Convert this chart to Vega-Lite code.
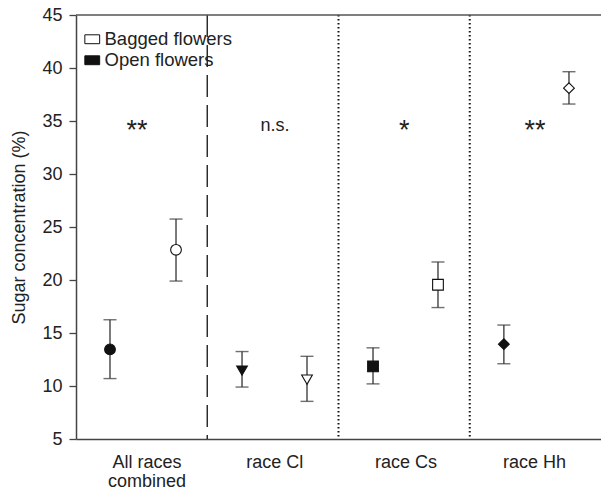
{
  "$schema": "https://vega.github.io/schema/vega-lite/v6.json",
  "autosize": "none",
  "width": 525,
  "height": 424,
  "padding": {"left": 76, "top": 15, "right": 0, "bottom": 53},
  "background": "white",
  "config": {
    "view": {"stroke": null},
    "font": "Liberation Sans",
    "axis": {"domainColor": "#444", "domainWidth": 1.5, "tickColor": "#444", "tickWidth": 1.3, "labelColor": "#222", "titleColor": "#222", "grid": false, "labelFont": "Liberation Sans", "titleFont": "Liberation Sans"}
  },
  "datasets": {
    "pts": [
      {"group": "All races combined", "type": "Open flowers", "x": 0.259, "mean": 13.45, "lo": 10.7, "hi": 16.25},
      {"group": "All races combined", "type": "Bagged flowers", "x": 0.762, "mean": 22.85, "lo": 19.9, "hi": 25.75},
      {"group": "race Cl", "type": "Open flowers", "x": 1.265, "mean": 11.45, "lo": 9.9, "hi": 13.25},
      {"group": "race Cl", "type": "Bagged flowers", "x": 1.76, "mean": 10.6, "lo": 8.55, "hi": 12.8},
      {"group": "race Cs", "type": "Open flowers", "x": 2.263, "mean": 11.85, "lo": 10.2, "hi": 13.6},
      {"group": "race Cs", "type": "Bagged flowers", "x": 2.758, "mean": 19.55, "lo": 17.4, "hi": 21.7},
      {"group": "race Hh", "type": "Open flowers", "x": 3.26, "mean": 13.95, "lo": 12.1, "hi": 15.75},
      {"group": "race Hh", "type": "Bagged flowers", "x": 3.756, "mean": 38.1, "lo": 36.6, "hi": 39.65}
    ],
    "notes": [
      {"x": 0.465, "y": 33.3, "label": "**", "size": 27},
      {"x": 1.516, "y": 34.06, "label": "n.s.", "size": 18},
      {"x": 2.5, "y": 33.3, "label": "*", "size": 27},
      {"x": 3.497, "y": 33.3, "label": "**", "size": 27}
    ],
    "seps": [
      {"x": 1, "kind": "dash"},
      {"x": 2, "kind": "dot"},
      {"x": 3, "kind": "dot"}
    ]
  },
  "encoding": {
    "x": {"type": "quantitative"},
    "y": {"type": "quantitative"}
  },
  "layer": [
    {
      "data": {"name": "seps"},
      "transform": [{"filter": "datum.kind === 'dash'"}],
      "mark": {"type": "rule", "color": "#222", "strokeWidth": 1.4, "strokeDash": [22, 8]},
      "encoding": {"x": {"field": "x", "type": "quantitative"}, "y": null}
    },
    {
      "data": {"name": "seps"},
      "transform": [{"filter": "datum.kind === 'dot'"}],
      "mark": {"type": "rule", "color": "#111", "strokeWidth": 2, "strokeDash": [1.6, 2.4]},
      "encoding": {"x": {"field": "x", "type": "quantitative"}, "y": null}
    },
    {
      "data": {"values": [{"v": 45}]},
      "mark": {"type": "rule", "color": "#555", "strokeWidth": 1.5},
      "encoding": {"y": {"field": "v", "type": "quantitative"}, "x": null}
    },
    {
      "data": {"name": "pts"},
      "mark": {"type": "rule", "color": "#333", "strokeWidth": 1.3},
      "encoding": {
        "x": {"field": "x", "type": "quantitative", "scale": {"domain": [0, 4], "nice": false, "zero": false},
          "axis": {"title": null, "values": [0.537, 1.51, 2.51, 3.49], "ticks": false, "labelFontSize": 18, "labelPadding": 14, "labelLineHeight": 19, "labelFlush": false, "labelOverlap": false,
            "labelExpr": "datum.value < 1 ? ['All races', 'combined'] : datum.value < 2 ? 'race Cl' : datum.value < 3 ? 'race Cs' : 'race Hh'"}},
        "y": {"field": "lo", "type": "quantitative", "scale": {"domain": [5, 45], "nice": false, "zero": false},
          "axis": {"title": "Sugar concentration (%)", "values": [5, 10, 15, 20, 25, 30, 35, 40, 45], "tickSize": 7, "labelPadding": 7, "labelFontSize": 18, "titleFontSize": 18, "titleFontWeight": "normal", "titlePadding": 13}},
        "y2": {"field": "hi"}
      }
    },
    {
      "data": {"name": "pts"},
      "mark": {"type": "tick", "orient": "horizontal", "color": "#333", "size": 13, "thickness": 1.4},
      "encoding": {"x": {"field": "x", "type": "quantitative"}, "y": {"field": "lo", "type": "quantitative"}}
    },
    {
      "data": {"name": "pts"},
      "mark": {"type": "tick", "orient": "horizontal", "color": "#333", "size": 13, "thickness": 1.4},
      "encoding": {"x": {"field": "x", "type": "quantitative"}, "y": {"field": "hi", "type": "quantitative"}}
    },
    {
      "data": {"name": "pts"},
      "mark": {"type": "point", "filled": true, "stroke": "#111", "strokeWidth": 1.1, "opacity": 1, "size": 115},
      "encoding": {
        "x": {"field": "x", "type": "quantitative"},
        "y": {"field": "mean", "type": "quantitative"},
        "fill": {"field": "type", "type": "nominal",
          "scale": {"domain": ["Bagged flowers", "Open flowers"], "range": ["white", "#111"]},
          "legend": {"title": null, "orient": "none", "legendX": 7, "legendY": 15, "symbolType": "M-1,-0.6H1V0.6H-1Z", "symbolSize": 220, "symbolStrokeColor": "#111", "symbolStrokeWidth": 1, "labelFontSize": 18.5, "labelColor": "#222", "labelOffset": 3, "rowPadding": 2, "symbolOpacity": 1}},
        "shape": {"field": "group", "type": "nominal",
          "scale": {"domain": ["All races combined", "race Cl", "race Cs", "race Hh"], "range": ["circle", "triangle-down", "square", "diamond"]},
          "legend": null}
      }
    },
    {
      "data": {"name": "notes"},
      "mark": {"type": "text", "color": "#222", "baseline": "alphabetic", "align": "center"},
      "encoding": {
        "x": {"field": "x", "type": "quantitative"},
        "y": {"field": "y", "type": "quantitative"},
        "text": {"field": "label"},
        "size": {"field": "size", "type": "quantitative", "scale": null}
      }
    }
  ]
}
